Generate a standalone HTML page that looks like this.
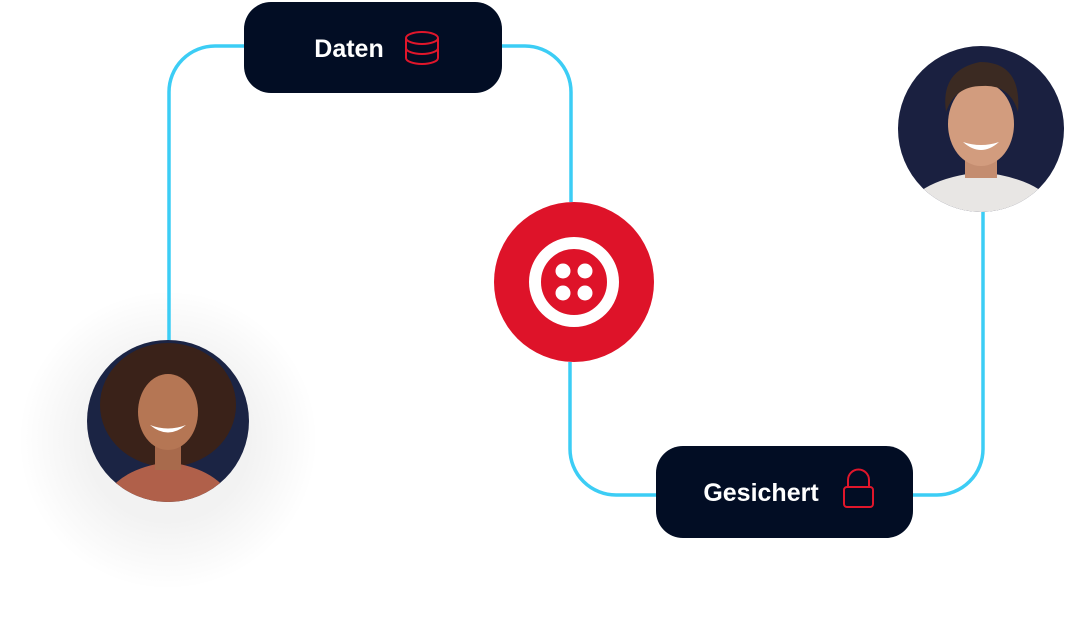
<!DOCTYPE html>
<html><head><meta charset="utf-8"><style>
body{margin:0;background:#fff;width:1065px;height:619px;overflow:hidden;font-family:"Liberation Sans",sans-serif}
</style></head><body>
<svg width="1065" height="619" viewBox="0 0 1065 619" xmlns="http://www.w3.org/2000/svg">
<defs>
<radialGradient id="sh" cx="0.5" cy="0.5" r="0.5"><stop offset="0.55" stop-color="#000" stop-opacity="0.05"/><stop offset="1" stop-color="#000" stop-opacity="0"/></radialGradient>
<clipPath id="cw"><circle cx="168" cy="421" r="81"/></clipPath>
<clipPath id="cm"><circle cx="981" cy="129" r="83"/></clipPath>
</defs>
<circle cx="168" cy="440" r="150" fill="url(#sh)"/>
<g fill="none" stroke="#3ccdf5" stroke-width="3.5">
<path d="M169 340 V92 A46 46 0 0 1 215 46 H244"/>
<path d="M502 46 H525 A46 46 0 0 1 571 92 V202"/>
<path d="M570 362 V449 A46 46 0 0 0 616 495 H656"/>
<path d="M913 495 H937 A46 46 0 0 0 983 449 V212"/>
</g>
<rect x="244" y="2" width="258" height="91" rx="27" fill="#020d24"/>
<text x="349" y="57" font-size="25" font-weight="bold" fill="#fff" text-anchor="middle">Daten</text>
<g fill="none" stroke="#e0162b" stroke-width="2">
<ellipse cx="422" cy="38" rx="16" ry="6"/>
<path d="M406 38 V58 A16 6 0 0 0 438 58 V38 M406 48 A16 6 0 0 0 438 48"/>
</g>
<rect x="656" y="446" width="257" height="92" rx="27" fill="#020d24"/>
<text x="761" y="501" font-size="25" font-weight="bold" fill="#fff" text-anchor="middle">Gesichert</text>
<g fill="none" stroke="#e0162b" stroke-width="2">
<rect x="844" y="487" width="29" height="20" rx="3"/>
<path d="M848 487 V480 A10.5 10.5 0 0 1 869 480 V487"/>
</g>
<circle cx="574" cy="282" r="80" fill="#de1329"/>
<circle cx="574" cy="282" r="39" fill="none" stroke="#fff" stroke-width="12"/>
<g fill="#fff"><circle cx="563" cy="271" r="7.5"/><circle cx="585" cy="271" r="7.5"/><circle cx="563" cy="293" r="7.5"/><circle cx="585" cy="293" r="7.5"/></g>
<g clip-path="url(#cw)">
<rect x="80" y="330" width="180" height="180" fill="#1b2444"/>
<ellipse cx="168" cy="405" rx="68" ry="62" fill="#3a2219"/>
<path d="M100 510 Q110 470 168 462 Q226 470 236 510Z" fill="#b0604a"/>
<rect x="155" y="440" width="26" height="30" fill="#a86a4c"/>
<ellipse cx="168" cy="412" rx="30" ry="38" fill="#b57654"/>
<path d="M150 425 Q168 440 186 425 Q168 432 150 425Z" fill="#fff"/>
</g>
<g clip-path="url(#cm)">
<rect x="890" y="40" width="185" height="180" fill="#1a2040"/>
<path d="M900 220 Q910 180 981 172 Q1052 180 1062 220Z" fill="#e8e6e4"/>
<rect x="965" y="150" width="32" height="28" fill="#c48d70"/>
<ellipse cx="981" cy="124" rx="33" ry="42" fill="#d29c7e"/>
<path d="M946 112 Q940 70 980 62 Q1022 62 1018 112 Q1010 84 982 86 Q955 86 946 112Z" fill="#3b2a22"/>
<path d="M963 142 Q981 158 999 142 Q981 148 963 142Z" fill="#fff"/>
</g>
</svg>
</body></html>
